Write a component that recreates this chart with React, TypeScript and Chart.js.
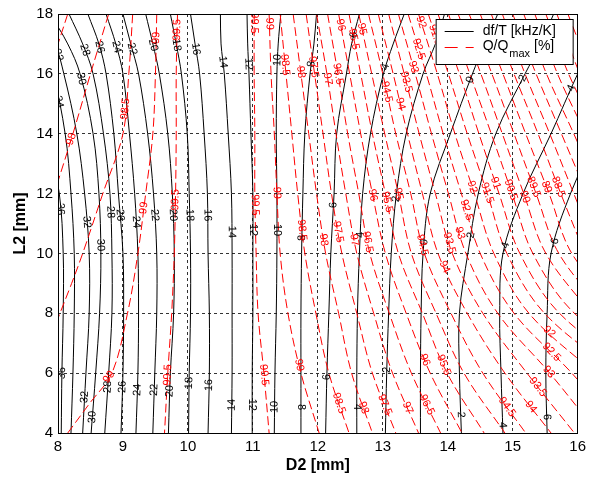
import React, { useEffect, useRef } from "react";
import { Chart, registerables } from "chart.js";

Chart.register(...registerables);

// ---------- axes ----------
const xMin = 8, xMax = 16, xStep = 1;
const yMin = 4, yMax = 18, yStep = 2;
const xTitle = "D2 [mm]";
const yTitle = "L2 [mm]";
const legendDf = "df/T [kHz/K]";
const legendQ = "Q/Q";
const legendQSub = "max";
const legendQUnit = " [%]";

// ---------- df/T contours (black) ----------
// D2 position of each contour at the heights in dfRowsL2 (null = outside)
const dfRowsL2 = [18, 17, 16, 14, 12, 10, 8, 6, 4];
const dfLevels = [36, 34, 32, 30, 28, 26, 24, 22, 20, 18, 16, 14, 12, 10, 8, 6, 4, 2, 0, -2, -4, -6];
const dfD2: (number | null)[][] = [
  [null, null, 7.57, 7.83, 8.02, 8.08, 8.08, 8.06, 8.05],
  [null, 7.72, 7.92, 8.11, 8.2, 8.25, 8.25, 8.23, 8.2],
  [7.65, 7.95, 8.09, 8.29, 8.41, 8.48, 8.48, 8.43, 8.38],
  [7.88, 8.15, 8.34, 8.54, 8.63, 8.66, 8.64, 8.58, 8.51],
  [8.17, 8.38, 8.54, 8.7, 8.8, 8.83, 8.83, 8.78, 8.72],
  [8.46, 8.63, 8.74, 8.86, 8.93, 9.0, 9.01, 9.0, 8.97],
  [8.74, 8.89, 9.0, 9.1, 9.18, 9.23, 9.24, 9.23, 9.2],
  [9.0, 9.12, 9.24, 9.38, 9.47, 9.52, 9.52, 9.49, 9.46],
  [9.35, 9.46, 9.56, 9.69, 9.76, 9.79, 9.78, 9.73, 9.7],
  [9.73, 9.82, 9.9, 9.99, 10.02, 10.04, 10.04, 10.02, 10.01],
  [10.04, 10.11, 10.18, 10.25, 10.3, 10.31, 10.33, 10.33, 10.31],
  [10.5, 10.51, 10.56, 10.62, 10.67, 10.68, 10.68, 10.68, 10.67],
  [10.91, 10.92, 10.94, 10.97, 11.0, 11.0, 11.0, 10.99, 10.99],
  [11.43, 11.39, 11.37, 11.36, 11.37, 11.37, 11.36, 11.34, 11.33],
  [11.98, 11.94, 11.88, 11.8, 11.77, 11.75, 11.74, 11.74, 11.74],
  [12.64, 12.52, 12.44, 12.29, 12.25, 12.2, 12.17, 12.14, 12.12],
  [13.33, 13.16, 13.01, 12.81, 12.69, 12.64, 12.61, 12.6, 12.6],
  [13.95, 13.81, 13.62, 13.36, 13.21, 13.13, 13.09, 13.06, 13.04],
  [14.77, 14.57, 14.38, 14.04, 13.73, 13.62, 13.59, 13.58, 13.58],
  [15.63, 15.43, 15.19, 14.74, 14.47, 14.31, 14.18, 14.18, 14.21],
  [null, 16.23, 16.0, 15.59, 15.16, 14.85, 14.8, 14.82, 14.85],
  [null, null, null, 16.31, 15.89, 15.59, 15.53, 15.51, 15.53],
];
// heights (L2) where the inline labels sit
const dfLabelL2: number[][] = [
  [11.48, 6.0],
  [15.06],
  [16.63, 11.05, 5.2],
  [15.83, 10.28, 4.53],
  [16.8, 11.38, 5.54],
  [16.9, 11.28, 5.54],
  [16.9, 11.05, 5.44],
  [16.83, 11.28, 5.44],
  [16.96, 11.28, 5.4],
  [16.96, 11.28, 5.67],
  [16.83, 11.28, 5.6],
  [16.4, 10.72, 4.94],
  [16.33, 10.78, 4.94],
  [16.46, 10.78, 4.87],
  [16.33, 10.52, 4.87],
  [17.3, 11.62, 5.87],
  [16.23, 10.62, 4.87],
  [11.82, 6.11],
  [15.8, 10.38],
  [15.8, 10.55, 4.67],
  [15.46, 10.21, 4.33],
  [10.35, 4.6],
];

// ---------- Q/Qmax contours (red dashed), right-hand family ----------
const qRowsL2 = [18, 16, 14, 12, 10, 8, 6, 4];
const qRightLevels = [99.5, 99, 98.5, 98, 97.5, 97, 96.5, 96, 95.5, 95, 94.5, 94, 93.5, 93, 92.5, 92, 91.5, 91, 90.5, 90, 89.5, 89, 88.5, 88, 87.5, 87, 86.5, 86, 85.5, 85];
const qRightD2: number[][] = [
  [11.02, 11.02, 11.03, 11.03, 11.05, 11.08, 11.17, 11.25],
  [11.25, 11.28, 11.33, 11.37, 11.42, 11.54, 11.74, 12.02],
  [11.42, 11.51, 11.6, 11.69, 11.8, 11.97, 12.17, 12.48],
  [11.62, 11.74, 11.86, 11.98, 12.12, 12.32, 12.52, 12.84],
  [11.82, 11.95, 12.08, 12.21, 12.37, 12.6, 12.84, 13.2],
  [11.98, 12.14, 12.28, 12.43, 12.6, 12.86, 13.15, 13.55],
  [12.15, 12.31, 12.46, 12.63, 12.8, 13.1, 13.44, 13.89],
  [12.32, 12.49, 12.66, 12.84, 13.04, 13.36, 13.73, 14.22],
  [12.48, 12.66, 12.84, 13.04, 13.24, 13.61, 13.99, 14.56],
  [12.63, 12.83, 13.03, 13.24, 13.44, 13.82, 14.25, 14.88],
  [12.78, 13.0, 13.2, 13.43, 13.64, 14.05, 14.54, 15.2],
  [12.93, 13.16, 13.38, 13.61, 13.85, 14.3, 14.88, 15.59],
  [13.09, 13.33, 13.56, 13.81, 14.07, 14.54, 15.22, 15.95],
  [13.24, 13.5, 13.75, 14.01, 14.28, 14.77, 15.57, 16.31],
  [13.39, 13.67, 13.93, 14.21, 14.5, 15.02, 15.91, 16.69],
  [13.55, 13.84, 14.11, 14.41, 14.71, 15.25, 16.26],
  [13.7, 14.01, 14.3, 14.61, 14.91, 15.49, 16.61],
  [13.85, 14.18, 14.48, 14.79, 15.11, 15.72, 16.92],
  [14.01, 14.34, 14.67, 14.99, 15.31, 15.95, 17.23],
  [14.16, 14.51, 14.84, 15.17, 15.51, 16.2],
  [14.33, 14.68, 15.02, 15.36, 15.71, 16.43],
  [14.5, 14.85, 15.2, 15.56, 15.91, 16.66],
  [14.67, 15.02, 15.39, 15.74, 16.11],
  [14.84, 15.19, 15.57, 15.94, 16.31],
  [15.0, 15.36, 15.75, 16.14],
  [15.17, 15.52, 15.94, 16.34],
  [15.34, 15.69, 16.12],
  [15.51, 15.86, 16.31],
  [15.68, 16.03],
  [15.85, 16.21],
];
const qRightLabelL2: number[][] = [
  [17.7, 11.62, 5.94],
  [17.67, 12.02, 6.27],
  [16.3, 10.78, 5.0],
  [16.06, 10.45, 4.84],
  [16.23, 10.72, 4.94],
  [15.83, 10.45, 4.84],
  [16.0, 10.38, 4.94],
  [17.63, 11.95, 6.44],
  [17.16, 11.72, 6.27],
  [17.5, 11.99],
  [15.4, 10.28, 4.87],
  [15.0, 9.55, 4.87],
  [15.73, 10.35, 5.54],
  [16.23, 10.68, 6.04],
  [16.83, 11.45, 6.7],
  [17.73, 12.22, 7.38],
  [17.3, 12.02],
  [12.35],
  [12.12],
  [11.89],
  [12.22],
  [12.22],
  [12.22],
  [], [], [], [], [], [], [],
];

// ---------- Q/Qmax contours (red dashed), left-hand family ----------
const qLeftLevels = [99.5, 99, 98.5, 98, 97.5];
const qLeftL2: number[][] = [
  [18, 16, 14, 12, 10, 8, 6, 4],
  [18, 16, 14, 12, 10, 8, 6, 5, 4],
  [18, 16, 14, 12, 10, 9, 8, 7.5],
  [18, 16, 14, 12],
  [18, 16],
];
const qLeftD2: number[][] = [
  [9.84, 9.82, 9.82, 9.81, 9.79, 9.75, 9.69, 9.64],
  [9.52, 9.5, 9.46, 9.35, 9.23, 9.07, 8.83, 8.49, 8.15],
  [9.15, 9.09, 9.0, 8.69, 8.38, 8.21, 8.03, 7.94],
  [8.78, 8.5, 8.23, 7.94],
  [8.15, 7.85],
];
const qLeftLabelL2: number[][] = [
  [17.47, 11.79, 5.94],
  [17.2, 11.52, 5.87],
  [14.83],
  [13.82],
  [],
];

const FONT = 'Arial, "Liberation Sans", Helvetica, sans-serif';
const BLACK = "#000000";
const RED = "#ff0000";

function toPoints(d2: (number | null)[], l2: number[]) {
  const pts: { x: number; y: number }[] = [];
  d2.forEach((v, i) => {
    if (v !== null && v !== undefined) pts.push({ x: v, y: l2[i] });
  });
  return pts;
}

function buildDatasets() {
  const sets: any[] = [];
  dfLevels.forEach((lvl, i) => {
    sets.push({
      label: "df/T " + lvl,
      data: toPoints(dfD2[i], dfRowsL2),
      borderColor: BLACK,
      borderWidth: 1,
      pointRadius: 0,
      tension: 0.35,
      fill: false,
      order: 1,
      labelAt: dfLabelL2[i],
      labelText: String(lvl),
      labelColor: BLACK,
    });
  });
  qRightLevels.forEach((lvl, i) => {
    sets.push({
      label: "Q " + lvl,
      data: toPoints(qRightD2[i], qRowsL2),
      borderColor: RED,
      borderWidth: 1,
      borderDash: [9, 4],
      pointRadius: 0,
      tension: 0.35,
      fill: false,
      order: 0,
      labelAt: qRightLabelL2[i],
      labelText: String(lvl),
      labelColor: RED,
    });
  });
  qLeftLevels.forEach((lvl, i) => {
    sets.push({
      label: "Q left " + lvl,
      data: toPoints(qLeftD2[i], qLeftL2[i]),
      borderColor: RED,
      borderWidth: 1,
      borderDash: [9, 4],
      pointRadius: 0,
      tension: 0.35,
      fill: false,
      order: 0,
      labelAt: qLeftLabelL2[i],
      labelText: String(lvl),
      labelColor: RED,
    });
  });
  return sets;
}

const framePlugin = {
  id: "frameAndLabels",
  afterDatasetsDraw(chart: any) {
    const { ctx, chartArea: a } = chart;
    // inline contour labels
    ctx.save();
    ctx.beginPath();
    ctx.rect(a.left, a.top, a.right - a.left, a.bottom - a.top);
    ctx.clip();
    ctx.font = "11px " + FONT;
    ctx.textAlign = "center";
    ctx.textBaseline = "middle";
    const yScale = chart.scales.y;
    chart.data.datasets.forEach((ds: any, i: number) => {
      const labs: number[] = ds.labelAt || [];
      if (!labs.length) return;
      const pts = chart.getDatasetMeta(i).data.map((p: any) => ({ x: p.x, y: p.y }));
      labs.forEach((l2) => {
        const py = yScale.getPixelForValue(l2);
        for (let k = 0; k < pts.length - 1; k++) {
          const p0 = pts[k], p1 = pts[k + 1];
          if ((p0.y - py) * (p1.y - py) <= 0 && p0.y !== p1.y) {
            const t = (py - p0.y) / (p1.y - p0.y);
            const px = p0.x + t * (p1.x - p0.x);
            let ang = Math.atan2(p1.y - p0.y, p1.x - p0.x);
            if (ang > Math.PI / 2 + 0.001) ang -= Math.PI;
            if (ang < -Math.PI / 2) ang += Math.PI;
            ctx.save();
            ctx.translate(px, py);
            ctx.rotate(ang);
            ctx.fillStyle = ds.labelColor;
            ctx.fillText(ds.labelText, 0, 0);
            ctx.restore();
            break;
          }
        }
      });
    });
    ctx.restore();
    // axes box
    ctx.save();
    ctx.strokeStyle = BLACK;
    ctx.lineWidth = 1;
    ctx.setLineDash([]);
    ctx.strokeRect(Math.round(a.left) + 0.5, Math.round(a.top) + 0.5, Math.round(a.right - a.left) - 1, Math.round(a.bottom - a.top));
    ctx.restore();
  },
  afterDraw(chart: any) {
    const { ctx, chartArea: a } = chart;
    const bx = a.right - 142, by = a.top + 5, bw = 137, bh = 45;
    ctx.save();
    ctx.setLineDash([]);
    ctx.fillStyle = "#ffffff";
    ctx.fillRect(bx, by, bw, bh);
    ctx.strokeStyle = BLACK;
    ctx.lineWidth = 1;
    ctx.strokeRect(bx + 0.5, by + 0.5, bw, bh);
    // samples
    ctx.beginPath();
    ctx.moveTo(bx + 9, by + 12.5);
    ctx.lineTo(bx + 38, by + 12.5);
    ctx.stroke();
    ctx.strokeStyle = RED;
    ctx.setLineDash([13, 8]);
    ctx.beginPath();
    ctx.moveTo(bx + 9, by + 28.5);
    ctx.lineTo(bx + 38, by + 28.5);
    ctx.stroke();
    ctx.setLineDash([]);
    // texts
    ctx.fillStyle = BLACK;
    ctx.textAlign = "left";
    ctx.textBaseline = "middle";
    ctx.font = "14px " + FONT;
    const tx = bx + 47;
    ctx.fillText(legendDf, tx, by + 12);
    ctx.fillText(legendQ, tx, by + 27);
    const w1 = ctx.measureText(legendQ).width;
    ctx.font = "11px " + FONT;
    ctx.fillText(legendQSub, tx + w1 + 1, by + 35);
    const w2 = ctx.measureText(legendQSub).width;
    ctx.font = "14px " + FONT;
    ctx.fillText(legendQUnit, tx + w1 + 1 + w2, by + 27);
    ctx.restore();
  },
};

export default function App() {
  const ref = useRef<HTMLCanvasElement | null>(null);
  useEffect(() => {
    document.body.style.margin = "0";
    if (!ref.current) return;
    const chart = new Chart(ref.current, {
      type: "line",
      data: { datasets: buildDatasets() },
      options: {
        animation: false,
        responsive: false,
        maintainAspectRatio: false,
        events: [],
        layout: { padding: { left: 0, top: 14, right: 11, bottom: 0 } },
        plugins: {
          legend: { display: false },
          tooltip: { enabled: false },
          title: { display: false },
        },
        scales: {
          x: {
            type: "linear",
            min: xMin,
            max: xMax,
            afterFit: (s: any) => { s.height = 49; },
            ticks: { stepSize: xStep, color: BLACK, font: { family: FONT, size: 15 }, padding: 5 },
            grid: { color: "#333333", lineWidth: 1, drawTicks: false, borderDash: [3, 3] } as any,
            border: { display: false, dash: [3, 3] },
            title: { display: true, text: xTitle, color: BLACK, font: { family: FONT, size: 16, weight: "bold" }, padding: { top: 0, bottom: 7 } },
          },
          y: {
            type: "linear",
            min: yMin,
            max: yMax,
            afterFit: (s: any) => { s.width = 58; },
            ticks: { stepSize: yStep, color: BLACK, font: { family: FONT, size: 15 }, padding: 5 },
            grid: { color: "#333333", lineWidth: 1, drawTicks: false, borderDash: [3, 3] } as any,
            border: { display: false, dash: [3, 3] },
            title: { display: true, text: yTitle, color: BLACK, font: { family: FONT, size: 16, weight: "bold" }, padding: { top: 11, bottom: 0 } },
          },
        },
      } as any,
      plugins: [framePlugin],
    });
    return () => chart.destroy();
  }, []);
  return (
    <div style={{ position: "fixed", left: 0, top: 0, width: 591, height: 482, background: "#fff" }}>
      <canvas ref={ref} width={591} height={482} style={{ display: "block" }} />
    </div>
  );
}
